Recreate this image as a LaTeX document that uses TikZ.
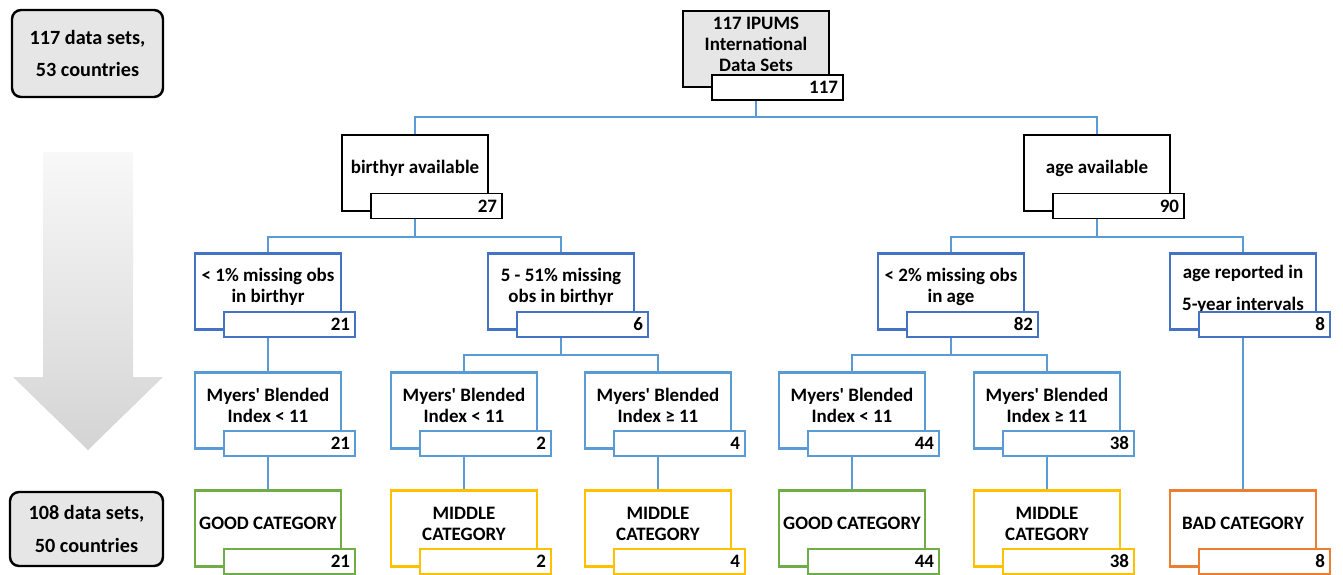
\documentclass[tikz,border=0pt]{standalone}
\usepackage{fontspec}
\setmainfont{Carlito}
\definecolor{boxgray}{HTML}{E7E6E6}
\definecolor{lvlblue}{HTML}{4472C4}
\definecolor{ltblue}{HTML}{5B9BD5}
\definecolor{goodcol}{HTML}{70AD47}
\definecolor{midcol}{HTML}{FFC000}
\definecolor{badcol}{HTML}{ED7D31}
\definecolor{arrowtop}{HTML}{F8F8F8}
\definecolor{arrowbot}{HTML}{D4D4D4}
\begin{document}
\begin{tikzpicture}[x=0.02cm, y=-0.02cm,
  every node/.style={font=\fontsize{10.8}{12}\selectfont\bfseries},
  mainbox/.style={draw, line width=1.4pt, fill=white, minimum width=2.92cm, minimum height=1.52cm, inner sep=0pt},
  numbox/.style={draw, line width=0.7pt, fill=white, minimum height=0.5cm, text width=2.42cm, inner xsep=0.1cm, inner ysep=0pt, align=right},
  boxtext/.style={align=center, yshift=0.1cm, inner sep=0pt},
  sumbox/.style={draw, line width=1.4pt, fill=boxgray, rounded corners=0.18cm, align=center, inner sep=0pt, font=\fontsize{11.5}{12.5}\selectfont\bfseries},
  conn/.style={ltblue, line width=0.75pt}]
\useasboundingbox (0,0) rectangle (1343,575);
% left column
\node[sumbox, minimum width=3.02cm, minimum height=1.74cm] (S_0) at (87.5,53.5) {117 data sets,\\[6pt]53 countries};
\shade[top color=arrowtop, bottom color=arrowbot] (43,152) -- (133,152) -- (133,377) -- (163,377) -- (88,450) -- (13,377) -- (43,377) -- cycle;
\node[sumbox, minimum width=3.06cm, minimum height=1.48cm] (S_1) at (86.5,529) {108 data sets,\\[6pt]50 countries};
% level 0
\node[mainbox, fill=boxgray, label={[boxtext]center:{117 IPUMS\\International\\Data Sets}}] (P_0_0) at (756,49) {};
\node[numbox] (N_0_0) at (777.5,87.5) {117};
% level 1
\node[mainbox, label={[boxtext]center:{birthyr available}}] (P_1_0) at (415,173) {};
\node[numbox] (N_1_0) at (436.5,206) {27};
\node[mainbox, label={[boxtext]center:{age available}}] (P_1_1) at (1097,173) {};
\node[numbox] (N_1_1) at (1118.5,206) {90};
% level 2
\node[mainbox, draw=lvlblue, label={[boxtext]center:{< 1\% missing obs\\in birthyr}}] (P_2_0) at (268,291.5) {};
\node[numbox, draw=lvlblue] (N_2_0) at (289.5,324.5) {21};
\node[mainbox, draw=lvlblue, label={[boxtext]center:{5 - 51\% missing\\obs in birthyr}}] (P_2_1) at (561,291.5) {};
\node[numbox, draw=lvlblue] (N_2_1) at (582.5,324.5) {6};
\node[mainbox, draw=lvlblue, label={[boxtext]center:{< 2\% missing obs\\in age}}] (P_2_2) at (951,291.5) {};
\node[numbox, draw=lvlblue] (N_2_2) at (972.5,324.5) {82};
\node[mainbox, draw=lvlblue, label={[boxtext, yshift=-0.06cm]center:{age reported in\\[6pt]5-year intervals}}] (P_2_3) at (1243,291.5) {};
\node[numbox, draw=lvlblue] (N_2_3) at (1264.5,324.5) {8};
% level 3
\node[mainbox, draw=ltblue, line width=1.2pt, label={[boxtext]center:{Myers\textquotesingle\ Blended\\Index < 11}}] (P_3_0) at (268,410.5) {};
\node[numbox, draw=ltblue] (N_3_0) at (289.5,443.5) {21};
\node[mainbox, draw=ltblue, line width=1.2pt, label={[boxtext]center:{Myers\textquotesingle\ Blended\\Index < 11}}] (P_3_1) at (464,410.5) {};
\node[numbox, draw=ltblue] (N_3_1) at (485.5,443.5) {2};
\node[mainbox, draw=ltblue, line width=1.2pt, label={[boxtext]center:{Myers\textquotesingle\ Blended\\Index ≥ 11}}] (P_3_2) at (658,410.5) {};
\node[numbox, draw=ltblue] (N_3_2) at (679.5,443.5) {4};
\node[mainbox, draw=ltblue, line width=1.2pt, label={[boxtext]center:{Myers\textquotesingle\ Blended\\Index < 11}}] (P_3_3) at (852,410.5) {};
\node[numbox, draw=ltblue] (N_3_3) at (873.5,443.5) {44};
\node[mainbox, draw=ltblue, line width=1.2pt, label={[boxtext]center:{Myers\textquotesingle\ Blended\\Index ≥ 11}}] (P_3_4) at (1047,410.5) {};
\node[numbox, draw=ltblue] (N_3_4) at (1068.5,443.5) {38};
% level 4
\node[mainbox, draw=goodcol, line width=1.2pt, label={[boxtext]center:{GOOD CATEGORY}}] (P_4_0) at (268,528.5) {};
\node[numbox, draw=goodcol] (N_4_0) at (289.5,561.5) {21};
\node[mainbox, draw=midcol, line width=1.2pt, label={[boxtext]center:{MIDDLE\\CATEGORY}}] (P_4_1) at (464,528.5) {};
\node[numbox, draw=midcol] (N_4_1) at (485.5,561.5) {2};
\node[mainbox, draw=midcol, line width=1.2pt, label={[boxtext]center:{MIDDLE\\CATEGORY}}] (P_4_2) at (658,528.5) {};
\node[numbox, draw=midcol] (N_4_2) at (679.5,561.5) {4};
\node[mainbox, draw=goodcol, line width=1.2pt, label={[boxtext]center:{GOOD CATEGORY}}] (P_4_3) at (852,528.5) {};
\node[numbox, draw=goodcol] (N_4_3) at (873.5,561.5) {44};
\node[mainbox, draw=midcol, line width=1.2pt, label={[boxtext]center:{MIDDLE\\CATEGORY}}] (P_4_4) at (1047,528.5) {};
\node[numbox, draw=midcol] (N_4_4) at (1068.5,561.5) {38};
\node[mainbox, draw=badcol, line width=1.2pt, label={[boxtext]center:{BAD CATEGORY}}] (P_4_5) at (1243,528.5) {};
\node[numbox, draw=badcol] (N_4_5) at (1264.5,561.5) {8};
% connectors
\coordinate (F_0) at (756,117);
\coordinate (F_1) at (415,237);
\coordinate (F_2) at (1097,237);
\coordinate (F_3) at (561,355);
\coordinate (F_4) at (951,355);
\draw[conn] (P_0_0.center |- N_0_0.south) -- (F_0) -| (P_1_0.north);
\draw[conn] (F_0) -| (P_1_1.north);
\draw[conn] (P_1_0.center |- N_1_0.south) -- (F_1) -| (P_2_0.north);
\draw[conn] (F_1) -| (P_2_1.north);
\draw[conn] (P_1_1.center |- N_1_1.south) -- (F_2) -| (P_2_2.north);
\draw[conn] (F_2) -| (P_2_3.north);
\draw[conn] (P_2_0.center |- N_2_0.south) -- (P_3_0.north);
\draw[conn] (P_2_1.center |- N_2_1.south) -- (F_3) -| (P_3_1.north);
\draw[conn] (F_3) -| (P_3_2.north);
\draw[conn] (P_2_2.center |- N_2_2.south) -- (F_4) -| (P_3_3.north);
\draw[conn] (F_4) -| (P_3_4.north);
\draw[conn] (P_2_3.center |- N_2_3.south) -- (P_4_5.north);
\draw[conn] (P_3_0.center |- N_3_0.south) -- (P_4_0.north);
\draw[conn] (P_3_1.center |- N_3_1.south) -- (P_4_1.north);
\draw[conn] (P_3_2.center |- N_3_2.south) -- (P_4_2.north);
\draw[conn] (P_3_3.center |- N_3_3.south) -- (P_4_3.north);
\draw[conn] (P_3_4.center |- N_3_4.south) -- (P_4_4.north);
\end{tikzpicture}
\end{document}
